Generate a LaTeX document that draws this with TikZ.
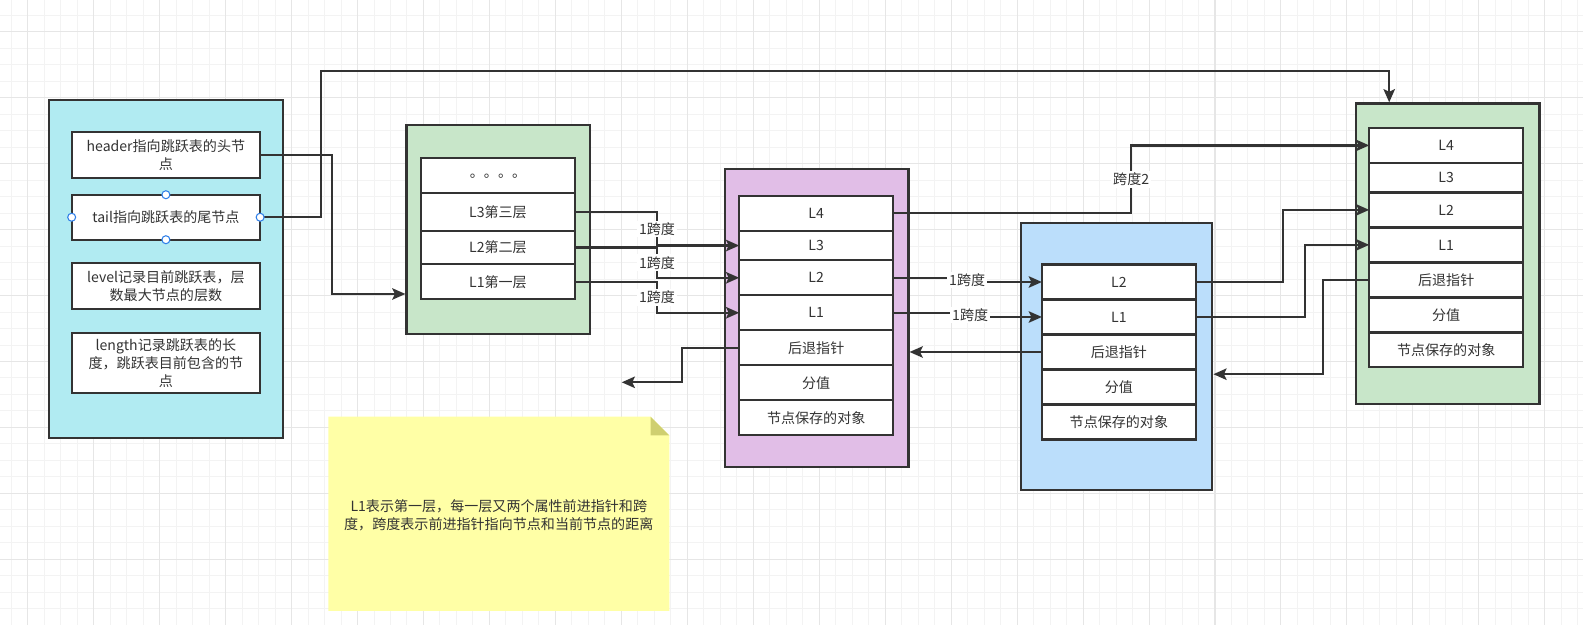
\documentclass[tikz,border=0pt]{standalone}
\usepackage{fontspec}
\setmainfont{Noto Sans CJK SC}
\usepackage{xcolor}
\usetikzlibrary{arrows.meta,positioning}

\definecolor{ink}{HTML}{333333}
\definecolor{headcyan}{HTML}{B1EBF2}
\definecolor{nodegreen}{HTML}{C8E6C9}
\definecolor{nodepurple}{HTML}{E1BEE7}
\definecolor{nodeblue}{HTML}{BBDEFB}
\definecolor{notefill}{HTML}{FFFFA6}
\definecolor{notefold}{HTML}{CFCF70}
\definecolor{handleblue}{HTML}{2F7FE8}
\definecolor{minorgrid}{HTML}{F3F3F3}
\definecolor{majorgrid}{HTML}{E6E6E6}

\begin{document}
\begin{tikzpicture}[
        x=0.02cm, y=-0.02cm,
        font=\fontsize{8}{10.4}\selectfont, text=ink,
        outerbox/.style={draw=ink, rectangle, line width=1.3pt, minimum width=3.67cm},
        field/.style={draw=ink, fill=white, rectangle, line width=1.3pt, outer sep=0pt,
            minimum width=3.08cm, minimum height=0.70cm, inner sep=1pt},
        shortfield/.style={field, minimum height=0.59cm},
        infobox/.style={draw=ink, fill=white, rectangle, line width=1.3pt, outer sep=0pt,
            minimum width=3.77cm, align=center, inner sep=1pt},
        link/.style={draw=ink, line width=1.3pt, -{Stealth[length=7.5pt,width=6.5pt,inset=1.5pt]}},
        spanlabel/.style={fill=white, inner sep=1pt},
        selhandle/.style={circle, draw=handleblue, fill=white, line width=0.6pt,
            minimum size=0.16cm, inner sep=0pt},
        gridminor/.style={draw=minorgrid, line width=0.55pt},
        gridmajor/.style={draw=majorgrid, line width=0.6pt}
    ]
        \useasboundingbox (0,0) rectangle (1583,625);
        \fill[white] (0,0) rectangle (1583,625);
        % canvas grid
        \foreach \k in {0,...,95}
            \draw[gridminor] ({11.2+16.49*\k},0) -- ({11.2+16.49*\k},625);
        \foreach \k in {0,...,37}
            \draw[gridminor] (0,{15.2+16.49*\k}) -- (1583,{15.2+16.49*\k});
        \foreach \k in {0,...,23}
            \draw[gridmajor] ({27.7+65.96*\k},0) -- ({27.7+65.96*\k},625);
        \foreach \k in {0,...,9}
            \draw[gridmajor] (0,{31.7+65.96*\k}) -- (1583,{31.7+65.96*\k});

        % containers
        \node[outerbox, fill=headcyan, minimum width=4.68cm, minimum height=6.76cm] (info) at (166.3,269) {};
        \node[outerbox, fill=nodegreen, minimum height=4.18cm] (head) at (498.3,229.5) {};
        \node[outerbox, fill=nodepurple, minimum height=5.96cm] (first) at (816.7,318) {};
        \node[outerbox, fill=nodeblue, minimum width=3.83cm, minimum height=5.34cm] (second) at (1116.5,356.2) {};
        \node[outerbox, fill=nodegreen, minimum height=6.01cm] (third) at (1447.7,253.7) {};

        % list header
        \node[infobox, minimum height=0.93cm] (hdr) at (165.9,155) {header指向跳跃表的头节\\点};
        \node[infobox, minimum height=0.90cm, below=0.33cm of hdr] (tail) {tail指向跳跃表的尾节点};
        \node[infobox, minimum height=0.92cm, below=0.47cm of tail] (lvl) {level记录目前跳跃表，层\\数最大节点的层数};
        \node[infobox, minimum height=1.19cm, below=0.48cm of lvl] (len) {length记录跳跃表的长\\度，跳跃表目前包含的节\\点};

        % header node
        \node[field] (hdots) at (498,175.8) {。。。。};
        \node[field, minimum height=0.75cm, below=0pt of hdots] (hl3) {L3第三层};
        \node[field, minimum height=0.67cm, below=0pt of hl3] (hl2) {L2第二层};
        \node[field, below=0pt of hl2] (hl1) {L1第一层};

        % first node
        \node[field] (fl4) at (816.2,213.3) {L4};
        \node[shortfield, below=0pt of fl4] (fl3) {L3};
        \node[field, below=0pt of fl3] (fl2) {L2};
        \node[field, below=0pt of fl2] (fl1) {L1};
        \node[field, below=0pt of fl1] (fback) {后退指针};
        \node[field, below=0pt of fback] (fscore) {分值};
        \node[field, below=0pt of fscore] (fobj) {节点保存的对象};

        % second node
        \node[field] (sl2) at (1118.9,282) {L2};
        \node[field, below=0pt of sl2] (sl1) {L1};
        \node[field, below=0pt of sl1] (sback) {后退指针};
        \node[field, below=0pt of sback] (sscore) {分值};
        \node[field, below=0pt of sscore] (sobj) {节点保存的对象};

        % third node
        \node[field] (tl4) at (1446.2,145.4) {L4};
        \node[shortfield, below=0pt of tl4] (tl3) {L3};
        \node[field, below=0pt of tl3] (tl2) {L2};
        \node[field, below=0pt of tl2] (tl1) {L1};
        \node[field, below=0pt of tl1] (tback) {后退指针};
        \node[field, below=0pt of tback] (tscore) {分值};
        \node[field, below=0pt of tscore] (tobj) {节点保存的对象};

        % pointers
        \draw[link] (hdr.east) -- ++(72,0) |- ([yshift=-1.29cm]head.west);
        \draw[link] (tail.east) -- ++(61,0) -- ++(0,-146.5) -| ([xshift=-1.17cm]third.north);
        \foreach \a in {north,south,east,west}
            \node[selhandle] (tail-\a) at (tail.\a) {};

        \draw[link] (hl3.east) -- ++(82,0) |- node[spanlabel,pos=0.25] {1跨度} (fl3.west);
        \draw[link] (hl2.east) -- ++(82,0) |- node[spanlabel,pos=0.25] {1跨度} (fl2.west);
        \draw[link] (hl1.east) -- ++(82,0) |- node[spanlabel,pos=0.25] {1跨度} (fl1.west);

        \draw[link] (fl4.east) -- ++(238,0) |- node[spanlabel,pos=0.25] {跨度2} (tl4.west);
        \draw[link] (fl2.east) -- ++(74,0) |- node[spanlabel,pos=0.25] {1跨度} (sl2.west);
        \draw[link] (fl1.east) -- ++(77,0) |- node[spanlabel,pos=0.25] {1跨度} (sl1.west);

        \draw[link] (sl2.east) -- ++(87,0) |- (tl2.west);
        \draw[link] (sl1.east) -- ++(109,0) |- (tl1.west);

        % backward pointers
        \coordinate (prevfree) at (621.7,382.3);
        \draw[link] (fback.west) -- ++(-57,0) |- (prevfree);
        \draw[link] (sback.west) -- (first.east |- sback.west);
        \draw[link] (tback.west) -- ++(-46,0) |- ([yshift=-0.36cm]second.east);

        % note
        \fill[notefill] (328.3,416.7) -- (650.6,416.7) -- (669.3,435.4) -- (669.3,610.8) -- (328.3,610.8) -- cycle;
        \fill[notefold] (650.6,416.7) -- (669.3,435.4) -- (650.6,435.4) -- cycle;
        \node[align=center] (note) at (498.8,515) {L1表示第一层，每一层又两个属性前进指针和跨\\度，跨度表示前进指针指向节点和当前节点的距离};
    \end{tikzpicture}
\end{document}
